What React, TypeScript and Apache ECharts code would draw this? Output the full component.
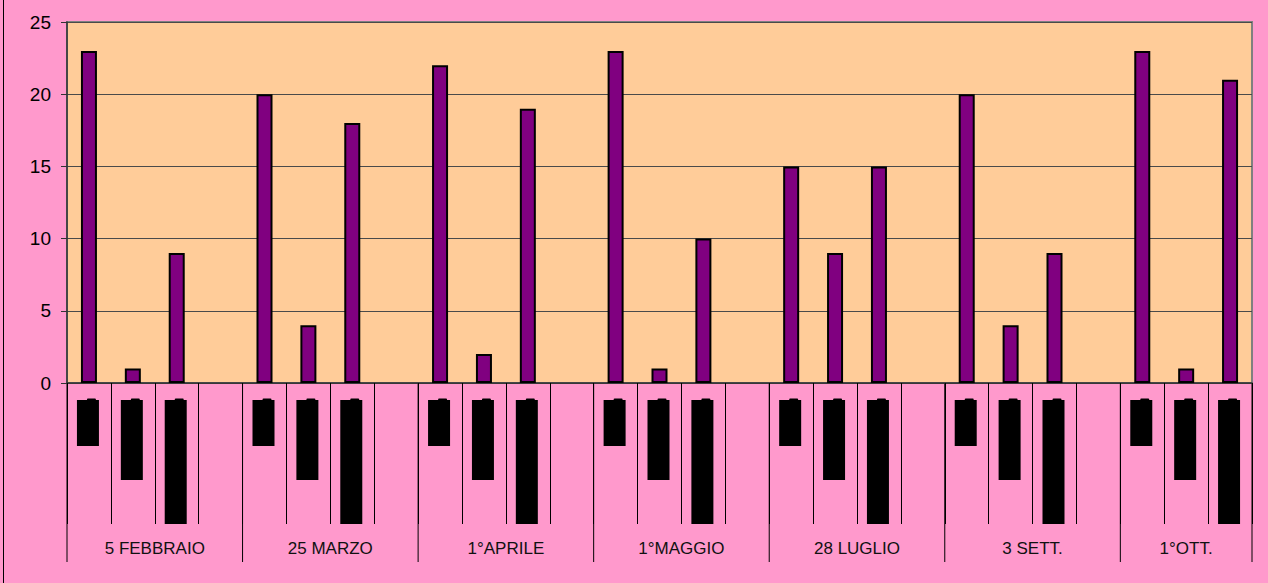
import React, { useEffect, useRef } from "react";
import * as echarts from "echarts";

const groups = ["5 FEBBRAIO", "25 MARZO", "1°APRILE", "1°MAGGIO", "28 LUGLIO", "3 SETT.", "1°OTT."];
const groupSizes = [4, 4, 4, 4, 4, 4, 3];
const values: (number | null)[] = [
  23, 1, 9, null,
  20, 4, 18, null,
  22, 2, 19, null,
  23, 1, 10, null,
  15, 9, 15, null,
  20, 4, 9, null,
  23, 1, 21,
];
const yTicks = [0, 5, 10, 15, 20, 25];

const slots: string[] = [];
groups.forEach((g, gi) => {
  for (let k = 0; k < groupSizes[gi]; k++) slots.push(g + " " + (k + 1));
});

const FONT = "'Liberation Sans', Arial, sans-serif";

export default function App() {
  const ref = useRef<HTMLDivElement>(null);
  useEffect(() => {
    document.body.style.margin = "0";
    const chart = echarts.init(ref.current!, undefined, { renderer: "svg" });
    chart.setOption({
      animation: false,
      backgroundColor: "#FF99CC",
      grid: {
        left: 67,
        top: 22,
        right: 16,
        bottom: 200,
        show: true,
        backgroundColor: "#FFCC99",
        borderColor: "#808080",
        borderWidth: 2,
      },
      xAxis: {
        type: "category",
        data: slots,
        boundaryGap: true,
        axisLine: { show: true, lineStyle: { color: "#333", width: 1.5 } },
        axisTick: { show: true, interval: 0, length: 141, lineStyle: { color: "#000", width: 1 } },
        axisLabel: { show: false },
        splitLine: { show: false },
      },
      yAxis: {
        type: "value",
        min: yTicks[0],
        max: yTicks[yTicks.length - 1],
        interval: 5,
        axisLine: { show: true, lineStyle: { color: "#333", width: 1.5 } },
        axisTick: { show: true, length: 6, lineStyle: { color: "#333" } },
        axisLabel: { margin: 16, fontSize: 19, color: "#000", fontFamily: FONT },
        splitLine: { show: true, lineStyle: { color: "#4a4a4a", width: 1 } },
      },
      series: [
        {
          type: "bar",
          data: values,
          barWidth: 16,
          itemStyle: { color: "#800080", borderColor: "#000", borderWidth: 2 },
        },
      ],
    });

    const blockLengths = [46, 80, 124];
    const px = (i: number) => chart.convertToPixel({ xAxisIndex: 0 }, i) as number;
    const slotW = px(1) - px(0);
    const elements: any[] = [];
    elements.push({
      type: "line",
      shape: { x1: 3.5, y1: 0, x2: 3.5, y2: 583 },
      style: { stroke: "#000", lineWidth: 1 },
    });
    let idx = 0;
    const zeroY = chart.convertToPixel({ yAxisIndex: 0 }, 0) as number;
    groups.forEach((g, gi) => {
      const start = idx;
      const size = groupSizes[gi];
      const left = px(start) - slotW / 2;
      const right = px(start + size - 1) + slotW / 2;
      elements.push({
        type: "line",
        shape: { x1: left, y1: zeroY, x2: left, y2: 562 },
        style: { stroke: "#000", lineWidth: 1 },
      });
      if (gi === groups.length - 1) {
        elements.push({
          type: "line",
          shape: { x1: right, y1: zeroY, x2: right, y2: 562 },
          style: { stroke: "#000", lineWidth: 1 },
        });
      }
      elements.push({
        type: "text",
        x: (left + right) / 2,
        y: 548,
        style: {
          text: g,
          fill: "#111",
          font: `17px ${FONT}`,
          align: "center",
          verticalAlign: "middle",
        },
      });
      for (let k = 0; k < size; k++) {
        if (values[start + k] == null) continue;
        const cx = px(start + k) - 1;
        const h = blockLengths[k] ?? 46;
        elements.push({
          type: "rect",
          shape: { x: cx - 11, y: 400, width: 22, height: h },
          style: { fill: "#000" },
        });
        elements.push({
          type: "rect",
          shape: { x: cx - 1, y: 398.5, width: 9, height: 2, r: 1 },
          style: { fill: "#000" },
        });
      }
      idx += size;
    });
    chart.setOption({ graphic: { elements } });

    return () => chart.dispose();
  }, []);
  return <div ref={ref} style={{ width: 1268, height: 583 }} />;
}
